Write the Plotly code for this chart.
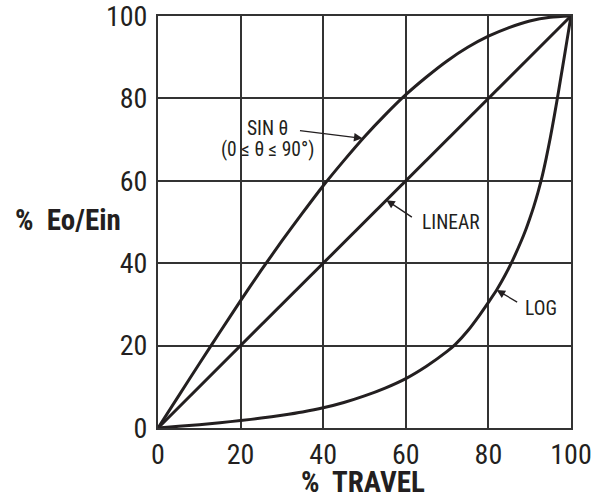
import plotly.graph_objects as go

travel = [0, 5, 10, 15, 20, 25, 30, 35, 40, 45, 50, 55, 60, 65, 70, 75, 80, 85, 90, 95, 100]
sine_vals = [0, 7.8, 15.6, 23.3, 30.9, 38.3, 45.4, 52.2, 58.8, 64.9, 70.7, 76.0, 80.9, 85.2, 89.1, 92.4, 95.1, 97.2, 98.8, 99.7, 100]
linear_vals = [0, 5, 10, 15, 20, 25, 30, 35, 40, 45, 50, 55, 60, 65, 70, 75, 80, 85, 90, 95, 100]
log_x = [0, 5, 10, 15, 20, 25, 30, 35, 40, 45, 50, 55, 60, 65, 70, 72, 75, 78, 80, 82, 84, 86, 88, 89, 90, 91, 92, 93, 94, 95, 96, 97, 98, 99, 100]
log_vals = [0, 0.4, 0.8, 1.3, 1.8, 2.4, 3.1, 3.9, 4.9, 6.2, 7.8, 9.7, 12.0, 15.0, 18.6, 20.3, 23.6, 27.6, 30.5, 33.5, 37.0, 41.0, 45.5, 48.0, 50.8, 53.8, 57.2, 61.0, 65.5, 70.5, 76.0, 81.8, 87.8, 93.9, 100]
tick_vals = [0, 20, 40, 60, 80, 100]
tick_text = ["0", "20", "40", "60", "80", "100"]

INK = "#231f20"
FONT = "Liberation Sans Narrow, Roboto Condensed, DejaVu Sans Condensed, Arial Narrow, sans-serif"

fig = go.Figure()
fig.add_trace(go.Scatter(x=travel, y=sine_vals, mode="lines", line=dict(color=INK, width=3, shape="spline", smoothing=0.6),
                         cliponaxis=False, showlegend=False, hoverinfo="skip"))
fig.add_trace(go.Scatter(x=travel, y=linear_vals, mode="lines", line=dict(color=INK, width=3),
                         cliponaxis=False, showlegend=False, hoverinfo="skip"))
fig.add_trace(go.Scatter(x=log_x, y=log_vals, mode="lines", line=dict(color=INK, width=3, shape="spline", smoothing=0.5),
                         cliponaxis=False, showlegend=False, hoverinfo="skip"))

axis_common = dict(range=[0, 100], tickvals=tick_vals, ticktext=tick_text, showgrid=True, automargin=False,
                   gridcolor="#333333", gridwidth=1.5, showline=True, linecolor="#333333", linewidth=2,
                   mirror=True, zeroline=False, ticks="", ticklabeloverflow="allow",
                   tickfont=dict(family=FONT, size=28, color=INK))
fig.update_xaxes(**axis_common, ticklabelstandoff=0)
fig.update_yaxes(**axis_common, ticklabelstandoff=3)

ann_font = dict(family=FONT, size=19.5, color=INK)
fig.add_annotation(x=26.5, y=72.8, text="SIN θ", showarrow=False, font=ann_font, xanchor="center", yanchor="middle")
fig.add_annotation(x=26.5, y=67.7, text="(0 ≤ θ ≤ 90°)", showarrow=False, font=ann_font, xanchor="center", yanchor="middle")
fig.add_annotation(x=63.5, y=49.8, text="LINEAR", showarrow=False, font=ann_font, xanchor="left", yanchor="middle")
fig.add_annotation(x=88.4, y=29.1, text="LOG", showarrow=False, font=ann_font, xanchor="left", yanchor="middle")

arrow_style = dict(text="", showarrow=True, arrowhead=2, arrowsize=1.3, arrowwidth=1.3, arrowcolor=INK)
fig.add_annotation(x=49.5, y=70.3, ax=-64, ay=-8, **arrow_style)
fig.add_annotation(x=55.3, y=55.3, ax=27, ay=18, **arrow_style)
fig.add_annotation(x=82, y=33.5, ax=22, ay=13, **arrow_style)

title_font = dict(family=FONT, size=29, color=INK, weight="bold")
fig.add_annotation(xref="paper", yref="paper", x=-0.218, y=0.505, text="%  Eo/Ein", showarrow=False,
                   font=title_font, xanchor="center", yanchor="middle")
fig.add_annotation(xref="paper", yref="paper", x=0.497, y=-0.131, text="%  TRAVEL", showarrow=False,
                   font=title_font, xanchor="center", yanchor="middle")

fig.update_layout(width=592, height=497, margin=dict(l=158, r=21, t=16, b=69),
                  plot_bgcolor="white", paper_bgcolor="white")
fig.write_html("out.html", config={"displayModeBar": False}, post_script="document.body.style.margin='0';")
